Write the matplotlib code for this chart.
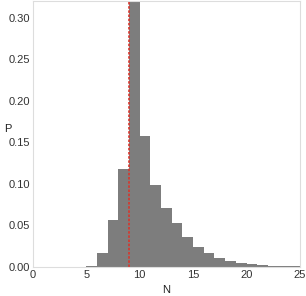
import numpy as np
import matplotlib.pyplot as plt

plt.rcParams['font.family'] = ['Liberation Sans', 'DejaVu Sans']

# histogram of N: bin left edges and probabilities
bin_left = [5, 6, 7, 8, 9, 10, 11, 12, 13, 14, 15, 16, 17, 18, 19, 20, 21, 22, 23, 24]
prob = [0.0015, 0.017, 0.056, 0.118, 0.33, 0.157, 0.099, 0.071, 0.053, 0.036,
        0.024, 0.017, 0.011, 0.007, 0.005, 0.003, 0.002, 0.0015, 0.001, 0.0008]
mark_n = 9
xticks = [0, 5, 10, 15, 20, 25]
yticks = [0.00, 0.05, 0.10, 0.15, 0.20, 0.25, 0.30]

fig = plt.figure(figsize=(3.06, 2.96), dpi=100)
ax = fig.add_axes([0.108, 0.098, 0.872, 0.899])

ax.bar(bin_left, prob, width=1.0, align='edge', color='#7d7d7d', edgecolor='none')
ax.axvline(mark_n, color='#d9352b', lw=1.2, ls=(0, (1.5, 1.0)))

ax.set_xlim(0, 25)
ax.set_ylim(0, 0.32)
ax.set_xticks(xticks)
ax.set_yticks(yticks)
ax.set_yticklabels([f'{v:.2f}' for v in yticks])
ax.tick_params(length=0, labelsize=8, colors='#333333', pad=2)
for s in ax.spines.values():
    s.set_color('#dddddd')
    s.set_linewidth(0.8)

ax.set_xlabel('N', fontsize=8, color='#222222', labelpad=4)
ax.set_ylabel('P', fontsize=8, color='#222222', rotation=0, labelpad=2)
ax.yaxis.set_label_coords(-0.095, 0.50)

fig.savefig('out.png', dpi=100)
